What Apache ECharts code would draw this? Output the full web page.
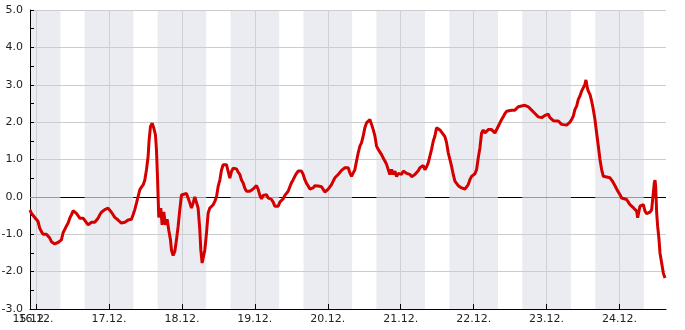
<!DOCTYPE html>
<html>
<head>
<meta charset="utf-8">
<script src="https://cdn.jsdelivr.net/npm/echarts@6/dist/echarts.min.js"></script>
<style>
html,body{margin:0;padding:0;background:#fff;}
#chart{width:685px;height:330px;}
</style>
</head>
<body>
<div id="chart"></div>
<script>
// hours relative to 16.12. 00:00
var times = [
-2.0,-1.54,-0.44,0.66,1.21,1.76,2.30,2.85,3.40,3.95,4.50,5.05,5.60,6.15,6.69,7.24,7.79,8.34,8.89,9.44,9.99,10.54,11.08,11.63,12.18,12.73,13.28,13.83,14.38,14.92,15.47,16.02,16.57,17.12,17.67,18.22,19.31,19.86,20.41,20.96,21.51,22.06,22.60,23.15,23.70,24.25,24.80,25.35,25.90,26.45,26.99,27.54,28.09,28.64,29.19,29.74,30.29,31.38,31.93,32.48,33.03,33.58,34.13,34.68,35.23,35.78,36.32,36.87,37.20,37.64,38.19,38.74,39.29,39.62,39.95,40.38,
41.04,41.48,42.03,42.58,43.13,43.68,44.23,44.55,45.10,45.65,46.20,46.75,47.30,47.85,48.40,49.49,50.04,50.59,51.14,51.69,52.24,52.79,53.33,53.88,54.21,54.65,55.09,55.53,56.08,56.63,57.17,57.72,58.27,58.82,59.37,59.92,60.47,61.02,61.56,62.11,62.66,63.21,63.76,64.31,64.86,65.41,65.95,66.50,67.05,67.60,68.15,68.70,69.25,70.34,70.89,71.44,71.99,72.54,73.09,73.64,74.18,74.73,75.28,75.83,76.38,76.93,77.48,78.03,78.57,79.12,79.67,80.22,80.77,81.32,81.87,82.42,82.96,
83.51,84.06,84.61,85.16,85.71,86.25,86.80,87.35,87.90,88.45,89.00,89.55,90.10,90.64,91.19,91.74,92.29,92.84,93.39,93.94,94.49,95.03,95.58,96.13,96.68,97.23,97.78,98.33,98.88,99.42,99.97,100.52,101.07,101.62,102.17,102.72,103.27,103.81,104.36,104.91,105.46,106.01,106.56,107.11,107.66,108.20,108.75,109.30,109.85,110.40,110.95,111.50,112.04,112.59,113.14,113.69,114.24,114.79,115.34,115.89,116.43,116.98,117.53,118.08,118.63,119.18,119.73,120.28,120.82,121.37,121.92,122.47,123.02,123.57,124.12,124.66,125.21,125.76,
126.31,126.86,127.41,127.95,128.50,129.05,129.60,130.15,130.70,131.25,131.80,132.34,132.89,133.44,133.99,134.54,135.09,135.64,136.19,136.73,137.28,137.83,138.38,138.93,139.48,140.03,140.57,141.12,141.67,142.22,142.77,143.32,143.87,144.42,144.96,145.51,146.06,146.61,147.16,147.71,148.26,148.81,149.90,150.45,151.00,151.55,152.10,152.65,153.20,153.74,154.29,154.84,155.39,156.49,157.58,158.13,158.68,159.23,159.78,160.33,160.88,161.42,161.97,162.52,163.07,163.62,164.17,164.72,165.27,165.81,166.36,166.91,167.46,168.01,168.56,
169.11,169.66,170.21,170.75,171.85,172.40,172.95,173.50,174.60,175.14,175.69,176.24,176.79,177.34,177.89,178.44,178.99,179.53,180.08,180.63,180.96,181.40,181.73,182.28,182.83,183.38,183.92,184.47,185.02,185.57,186.12,186.67,187.22,188.86,189.41,189.96,190.51,191.06,191.61,192.15,192.70,193.25,194.35,194.90,195.45,196.00,196.54,197.09,197.64,197.97,198.41,198.74,199.29,199.84,200.39,200.93,201.48,202.03,202.58,203.13,203.46,203.68,203.90,204.23,204.56,205.00,205.32,205.87,206.42,206.97
];
var values = [
-0.35,-0.44,-0.55,-0.66,-0.84,-0.93,-1.0,-0.95,-1.0,-1.0,-1.1,-1.2,-1.24,-1.26,-1.26,-1.22,-1.17,-1.15,-0.96,-0.87,-0.78,-0.70,-0.57,-0.48,-0.37,-0.39,-0.44,-0.48,-0.57,-0.53,-0.57,-0.63,-0.68,-0.75,-0.70,-0.68,-0.68,-0.68,-0.57,-0.48,-0.41,-0.37,-0.34,-0.30,-0.30,-0.34,-0.41,-0.48,-0.55,-0.57,-0.62,-0.66,-0.70,-0.68,-0.68,-0.63,-0.62,-0.60,-0.48,-0.34,-0.17,0.01,0.19,0.26,0.32,0.45,0.72,1.08,1.52,1.88,1.97,1.84,1.66,1.26,0.54,-0.55,
-0.3,-0.75,-0.4,-0.75,-0.6,-0.9,-1.15,-1.42,-1.57,-1.46,-1.15,-0.79,-0.34,0.05,0.09,0.09,0.04,-0.16,-0.30,-0.16,0.0,-0.03,-0.30,-0.88,-1.42,-1.77,-1.73,-1.42,-0.97,-0.43,-0.30,-0.32,-0.21,-0.12,0.0,0.28,0.45,0.72,0.86,0.89,0.86,0.68,0.50,0.68,0.77,0.80,0.75,0.66,0.60,0.45,0.37,0.23,0.15,0.15,0.20,0.21,0.24,0.30,0.20,0.04,-0.05,0.04,0.0,0.06,-0.03,-0.03,-0.07,-0.14,-0.25,-0.28,-0.25,-0.14,-0.09,-0.05,0.04,0.06,0.15,
0.27,0.38,0.46,0.55,0.63,0.69,0.71,0.69,0.60,0.46,0.36,0.29,0.21,0.21,0.24,0.30,0.33,0.29,0.27,0.27,0.20,0.13,0.15,0.21,0.27,0.33,0.42,0.51,0.55,0.60,0.64,0.71,0.71,0.78,0.73,0.78,0.64,0.55,0.54,0.73,0.96,1.18,1.36,1.45,1.63,1.85,1.98,2.03,2.07,1.94,1.80,1.63,1.36,1.27,1.22,1.13,1.04,0.96,0.87,0.73,0.60,0.73,0.60,0.69,0.54,0.63,0.64,0.60,0.69,0.64,0.63,0.64,0.60,0.54,0.55,0.60,0.63,0.70,
0.78,0.82,0.84,0.73,0.80,0.91,1.09,1.27,1.49,1.63,1.85,1.80,1.79,1.76,1.67,1.61,1.45,1.18,1.00,0.82,0.60,0.42,0.36,0.30,0.27,0.24,0.24,0.21,0.24,0.33,0.46,0.55,0.60,0.62,0.73,1.04,1.31,1.71,1.79,1.71,1.76,1.80,1.80,1.76,1.71,1.76,1.89,1.98,2.07,2.14,2.23,2.29,2.32,2.32,2.32,2.34,2.41,2.43,2.43,2.45,2.45,2.43,2.41,2.36,2.32,2.27,2.23,2.21,2.14,2.12,2.12,2.16,2.18,2.16,2.21,
2.12,2.07,2.04,2.03,2.03,2.03,1.94,1.92,1.92,1.94,2.00,2.07,2.16,2.34,2.43,2.61,2.70,2.83,2.88,3.01,3.13,2.92,2.83,2.74,2.56,2.34,2.07,1.71,1.36,1.00,0.73,0.55,0.51,0.51,0.45,0.38,0.30,0.21,0.13,0.06,-0.03,-0.05,-0.07,-0.14,-0.21,-0.25,-0.29,-0.29,-0.38,-0.56,-0.38,-0.25,-0.21,-0.21,-0.38,-0.45,-0.45,-0.41,-0.34,-0.29,0.38,0.45,0.29,-0.43,-0.79,-1.14,-1.50,-1.77,-2.04,-2.17
];
var dayHours = [0,24,48,72,96,120,144,168,192];
var dayLabels = ['16.12.','17.12.','18.12.','19.12.','20.12.','21.12.','22.12.','23.12.','24.12.'];
var startHour = -2, startLabel = '15.12.';
var xMin = -2, xMax = 207.3;
var yMin = -3, yMax = 5;
var nightHalf = 8; // night band from 16:00 to 08:00

var seriesData = times.map(function(t,i){return [t, values[i]];});
var bands = dayHours.map(function(d){return [d - nightHalf, d + nightHalf];});

function bandRect(params, api){
  var cs = params.coordSys;
  var p1 = api.coord([api.value(0), yMax]);
  var p2 = api.coord([api.value(1), yMin]);
  return echarts.graphic.clipRectByRect(
    {x:p1[0], y:p1[1], width:p2[0]-p1[0], height:p2[1]-p1[1]},
    {x:cs.x, y:cs.y, width:cs.width, height:cs.height});
}

var chart = echarts.init(document.getElementById('chart'), null, {renderer:'canvas'});
var font = 'DejaVu Sans';
var labelBase = {fontFamily:font, fontSize:11, color:'#222', margin:5, hideOverlap:false};
chart.setOption({
  animation:false,
  backgroundColor:'#fff',
  grid:{left:30, right:19, top:10, bottom:21, containLabel:false, outerBoundsMode:'none'},
  xAxis:[{
    type:'value', min:xMin, max:xMax, z:3, position:'bottom',
    axisLine:{onZero:false, lineStyle:{color:'#000',width:1}},
    axisTick:{show:true, inside:true, length:5, customValues:dayHours, lineStyle:{color:'#000'}},
    axisLabel:Object.assign({}, labelBase, {customValues:dayHours, showMinLabel:true, showMaxLabel:true,
      formatter:function(v){var i=dayHours.indexOf(v);return i>=0?dayLabels[i]:'';}}),
    splitLine:{show:true, lineStyle:{color:'#cfcfd4',width:1}}
  },{
    type:'value', min:xMin, max:xMax, z:3, position:'bottom', offset:0,
    axisLine:{show:false, onZero:false},
    axisTick:{show:false},
    splitLine:{show:false},
    axisLabel:Object.assign({}, labelBase, {customValues:[startHour], showMinLabel:true,
      formatter:function(){return startLabel;}})
  }],
  yAxis:{
    type:'value', min:yMin, max:yMax, interval:1, z:3,
    axisLine:{show:true, onZero:false, lineStyle:{color:'#000',width:1}},
    axisTick:{show:true, inside:true, length:4, lineStyle:{color:'#000'}},
    minorTick:{show:true, splitNumber:2, length:4, lineStyle:{color:'#000'}},
    axisLabel:{fontFamily:font, fontSize:11, color:'#222', margin:7,
      formatter:function(v){return v.toFixed(1);}},
    splitLine:{show:true, lineStyle:{color:'#cccccc',width:1}}
  },
  series:[
    {
      type:'custom', z:1, silent:true,
      data:bands,
      renderItem:function(params, api){
        var rect = bandRect(params, api);
        return rect && {type:'rect', shape:rect, style:{fill:'#ebecf2'}};
      }
    },
    {
      type:'custom', z:4, silent:true,
      data:[[0]],
      renderItem:function(params, api){
        var cs = params.coordSys;
        var y = Math.round(api.coord([0,0])[1]) + 0.5;
        return {type:'line', shape:{x1:cs.x, y1:y, x2:cs.x+cs.width, y2:y}, style:{stroke:'#000', lineWidth:1}};
      }
    },
    {
      type:'custom', z:5, silent:true,
      data:bands,
      renderItem:function(params, api){
        var rect = bandRect(params, api);
        if (!rect) return null;
        var y0 = Math.round(api.coord([0,0])[1]) + 0.5;
        return {type:'line', shape:{x1:rect.x, y1:y0, x2:rect.x+rect.width, y2:y0}, style:{stroke:'#999999', lineWidth:1}};
      }
    },
    {
      type:'line', z:6, xAxisIndex:0, data:seriesData, showSymbol:false, symbol:'none',
      lineStyle:{color:'#d40000', width:3}, itemStyle:{color:'#d40000'}
    }
  ]
});
</script>
</body>
</html>
